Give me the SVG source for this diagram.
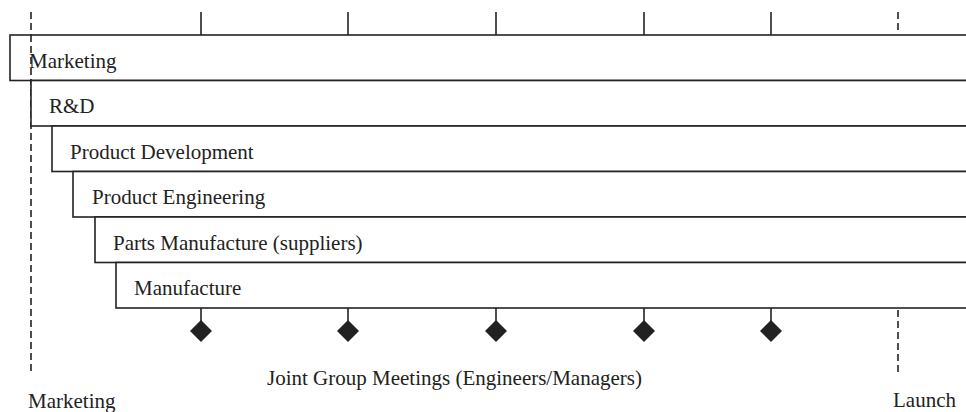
<svg xmlns="http://www.w3.org/2000/svg" width="966" height="412" viewBox="0 0 966 412">
<style>
.box{fill:#fff;stroke:#222;stroke-width:1.6}
.t{font-family:"Liberation Serif","Times New Roman",serif;font-size:21px;fill:#222}
.ln{stroke:#222;stroke-width:1.6;fill:none}
.dash{stroke:#222;stroke-width:1.6;fill:none;stroke-dasharray:7,4}
.dia{fill:#222}
</style>
<rect width="966" height="412" fill="#fff"/>
<g id="connectors">
<line class="dash" x1="31" y1="12" x2="31" y2="372"/>
<line class="dash" x1="898" y1="12" x2="898" y2="33"/>
<line class="dash" x1="898" y1="310" x2="898" y2="372"/>
<line class="ln" x1="201" y1="12" x2="201" y2="35"/>
<line class="ln" x1="348" y1="12" x2="348" y2="35"/>
<line class="ln" x1="496" y1="12" x2="496" y2="35"/>
<line class="ln" x1="644" y1="12" x2="644" y2="35"/>
<line class="ln" x1="771" y1="12" x2="771" y2="35"/>
<line class="ln" x1="201" y1="308" x2="201" y2="322"/>
<line class="ln" x1="348" y1="308" x2="348" y2="322"/>
<line class="ln" x1="496" y1="308" x2="496" y2="322"/>
<line class="ln" x1="644" y1="308" x2="644" y2="322"/>
<line class="ln" x1="771" y1="308" x2="771" y2="322"/>
</g>
<g id="marketing"><rect class="box" x="10" y="35" width="980" height="45.5"/><text class="t" x="29" y="68">Marketing</text></g>
<line class="dash" x1="31" y1="35" x2="31" y2="80"/>
<g id="rnd"><rect class="box" x="31" y="80.5" width="960" height="45.5"/><text class="t" x="49" y="113">R&amp;D</text></g>
<g id="product-development"><rect class="box" x="52" y="126" width="940" height="45.5"/><text class="t" x="70" y="158.5">Product Development</text></g>
<g id="product-engineering"><rect class="box" x="73" y="171.5" width="920" height="45.5"/><text class="t" x="92" y="204">Product Engineering</text></g>
<g id="parts-manufacture"><rect class="box" x="95" y="217" width="900" height="45.5"/><text class="t" x="113" y="249.5">Parts Manufacture (suppliers)</text></g>
<g id="manufacture"><rect class="box" x="116" y="262.5" width="880" height="45.5"/><text class="t" x="134" y="295">Manufacture</text></g>
<g id="meetings">
<polygon class="dia" points="201,320 212,331 201,342 190,331"/>
<polygon class="dia" points="348,320 359,331 348,342 337,331"/>
<polygon class="dia" points="496,320 507,331 496,342 485,331"/>
<polygon class="dia" points="644,320 655,331 644,342 633,331"/>
<polygon class="dia" points="771,320 782,331 771,342 760,331"/>
<text class="t" x="267" y="385">Joint Group Meetings (Engineers/Managers)</text>
</g>
<g id="start"><text class="t" x="28" y="408">Marketing</text></g>
<g id="launch"><text class="t" x="893" y="407">Launch</text></g>
</svg>
